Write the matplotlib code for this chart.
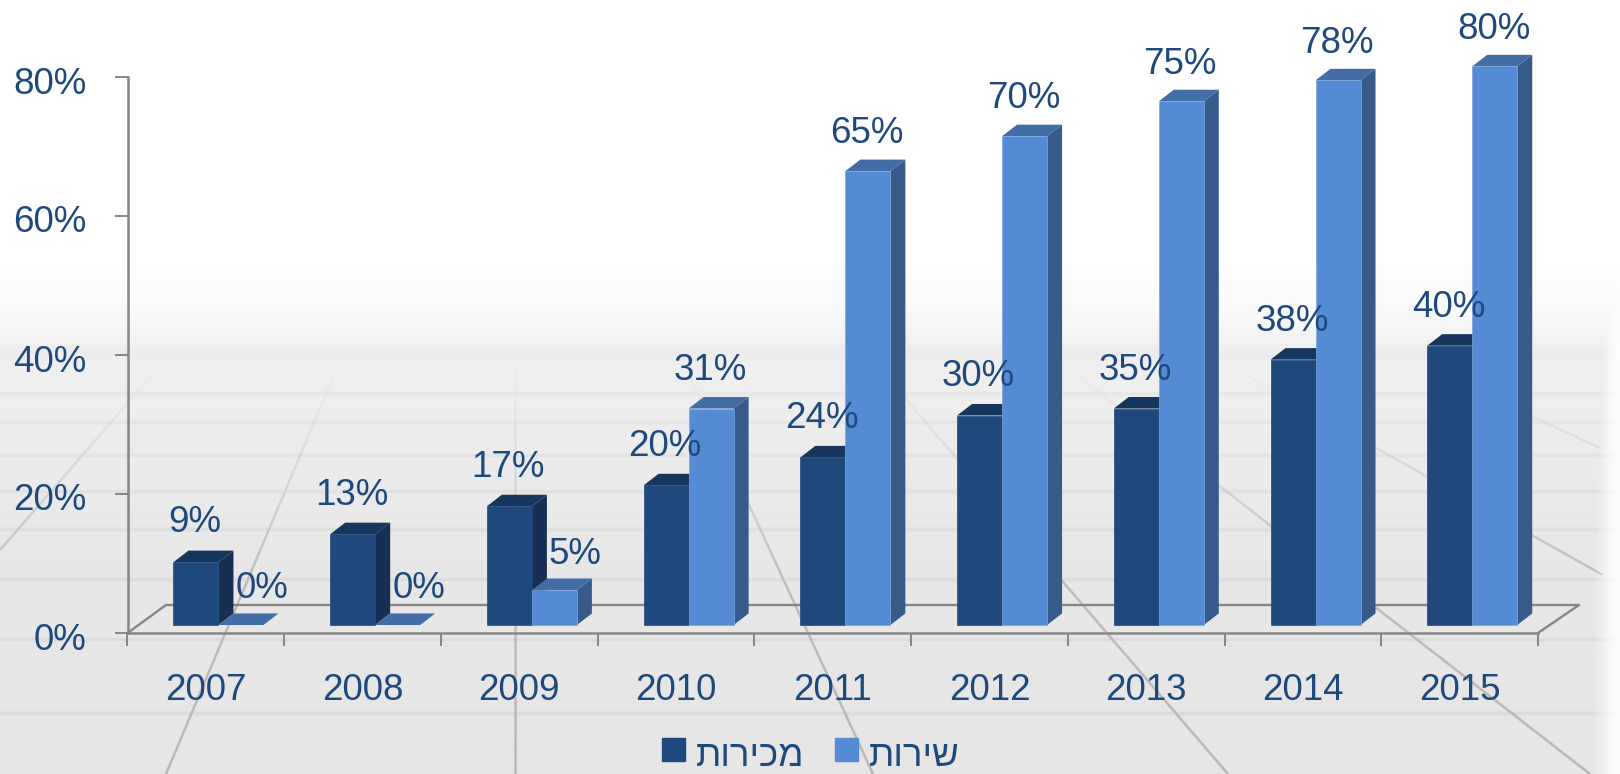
import numpy as np
import matplotlib
matplotlib.use("Agg")
import matplotlib.pyplot as plt
from matplotlib.collections import LineCollection
from matplotlib.patches import Patch
from matplotlib.transforms import Affine2D, ScaledTranslation

years = ["2007", "2008", "2009", "2010", "2011", "2012", "2013", "2014", "2015"]
sales = [9, 13, 17, 20, 24, 30, 31, 38, 40]  # bar heights; 2013 is drawn lower than its label
sales_labels = [9, 13, 17, 20, 24, 30, 35, 38, 40]
service = [0, 0, 5, 31, 65, 70, 75, 78, 80]
yticks = [0, 20, 40, 60, 80]
names = ["מכירות", "שירות"]

# background floor picture, in pixels
floor_rows = [393, 422, 455, 491, 529, 579, 639, 713]
floor_rays = [
    ((166, 359), (0, 550)),
    ((342, 356), (166, 774)),
    ((515, 355), (515, 774)),
    ((680, 355), (873, 774)),
    ((868, 355), (1228, 774)),
    ((1051, 355), (1590, 774)),
    ((1210, 355), (1603, 575)),
    ((1400, 355), (1600, 448)),
]

dark, dark_side, dark_top = "#1F497D", "#162F52", "#17365D"
light, light_side, light_top = "#558BD5", "#365B8A", "#426EA5"
text_col = "#1F497D"
axis_col = "#868686"

plt.rcParams["font.family"] = ["Liberation Sans", "DejaVu Sans"]
fs = 26.5

fig = plt.figure(figsize=(16.2, 7.74), dpi=100, facecolor="white")
W, H = 1620, 774

# background
bg = fig.add_axes([0, 0, 1, 1], zorder=0)
bg.axis("off")
yy, xx = np.mgrid[0:H, 0:W]
gray = np.full(H, 0.902)
gray -= 0.03 * np.exp(-((np.arange(H) - 352) / 7.0) ** 2)
for r in floor_rows:
    gray -= 0.05 * np.exp(-((np.arange(H) - r) / 2.0) ** 2)
bg.imshow(np.repeat(gray[:, None], 2, axis=1), cmap="gray", vmin=0, vmax=1,
          extent=(0, W, H, 0), aspect="auto", zorder=0)
for a, b in floor_rays:
    t = np.linspace(0, 1, 40)
    px = a[0] + (b[0] - a[0]) * t
    py = a[1] + (b[1] - a[1]) * t
    segs = [[(px[i], py[i]), (px[i + 1], py[i + 1])] for i in range(39)]
    strength = np.clip((py[:-1] - 350) / 230, 0.05, 1)
    colors = [(0.72, 0.72, 0.72, v) for v in strength]
    bg.add_collection(LineCollection(segs, colors=colors, linewidths=1.8, zorder=2))
fade = np.interp(yy, [0, 265, 310, 345, 360, 560, 774], [1, 1, 0.8, 0.45, 0.4, 0.08, 0])
fade = np.maximum(fade, np.interp(xx, [0, 1592, 1606, 1620], [0, 0, 0.6, 1]))
overlay = np.ones((H, W, 4))
overlay[..., 3] = fade
bg.imshow(overlay, extent=(0, W, H, 0), aspect="auto", zorder=3)
bg.set_xlim(0, W)
bg.set_ylim(H, 0)

# main chart
ax = fig.add_axes([127.5 / W, 1 - 633 / H, (1538 - 127.5) / W, (633 - 77) / H], zorder=1)
ax.patch.set_alpha(0)
ax.set_xlim(-0.5, 8.5)
ax.set_ylim(0, 80)

px_x = 9 / (1538 - 127.5)
px_y = 80 / (633 - 77)
w = 45 * px_x
dep_x, dep_y = 15 * px_x, 11.5 * px_y

# bars stand a little inside the floor
shift = ax.transData + ScaledTranslation(12.6 / 100, 8 / 100, fig.dpi_scale_trans)
bar_shift = Affine2D().scale(1, 1.0047) + shift
xs = np.arange(len(years))

# floor
ax.plot([-0.5, -0.5 + 38.5 * px_x, 8.5 + 41 * px_x, 8.5],
        [0, 28 * px_y, 28 * px_y, 0], color=axis_col, lw=1.7, clip_on=False, zorder=1)


def bar3d(x0, v, front, side, top, edge, z):
    ax.fill([x0 + w, x0 + w + dep_x, x0 + w + dep_x, x0 + w], [0, dep_y, v + dep_y, v],
            color=side, lw=0, transform=bar_shift, clip_on=False, zorder=z)
    ax.fill([x0, x0 + dep_x, x0 + w + dep_x, x0 + w], [v, v + dep_y, v + dep_y, v],
            color=top, lw=0, transform=bar_shift, clip_on=False, zorder=z)
    if v > 0:
        ax.bar(x0, v, width=w, align="edge", color=front, edgecolor=edge, linewidth=0.5,
               transform=bar_shift, clip_on=False, zorder=z + 0.1)


for x, s, l in zip(xs, sales, service):
    bar3d(x - w, s, dark, dark_side, dark_top, dark, 2 + x * 0.01)
    bar3d(x, l, light, light_side, light_top, "#7BA6E0", 3 + x * 0.01)

# data labels
for x, s, txt, l in zip(xs, sales, sales_labels, service):
    ax.annotate(f"{txt}%", xy=(x - w / 2, s), xycoords=shift, xytext=(-1 * 0.72, 39.5 * 0.72),
                textcoords="offset points", ha="center", va="center", fontsize=fs,
                color=text_col, annotation_clip=False, zorder=10)
    nudge, up = (21, 36) if l <= 5 else (-1, 39.5)
    ax.annotate(f"{l}%", xy=(x + w / 2, l), xycoords=shift, xytext=(nudge * 0.72, up * 0.72),
                textcoords="offset points", ha="center", va="center", fontsize=fs,
                color=text_col, annotation_clip=False, zorder=10)

# axes
for sp in ["top", "right"]:
    ax.spines[sp].set_visible(False)
for sp in ["left", "bottom"]:
    ax.spines[sp].set_color(axis_col)
    ax.spines[sp].set_linewidth(1.8)
ax.set_yticks(yticks)
ax.set_yticklabels([f"{t}%" for t in yticks], fontsize=fs, color=text_col)
ax.tick_params(axis="y", length=9.4, width=1.4, color=axis_col, pad=20)
drop = ScaledTranslation(0, -3 / 100, fig.dpi_scale_trans)
for t in ax.get_yticklabels():
    t.set_transform(t.get_transform() + drop)
ax.set_xticks(np.arange(-0.5, 9, 1))
ax.set_xticklabels([])
ax.tick_params(axis="x", which="major", length=9, width=1.4, color=axis_col)
ax.set_xticks(xs, minor=True)
ax.set_xticklabels(years, minor=True, fontsize=fs, color=text_col)
ax.tick_params(axis="x", which="minor", length=0, pad=29)

# legend, matplotlib has no bidi so the hebrew goes in visual order
handles = [Patch(color=dark), Patch(color=light)]
leg = fig.legend(handles, [n[::-1] for n in names], ncol=2, frameon=False, fontsize=fs,
                 loc="center", bbox_to_anchor=(811 / W, 1 - 753 / H),
                 handlelength=0.62, handleheight=0.62, handletextpad=0.3, columnspacing=0.85,
                 borderpad=0, labelcolor=text_col)
for t in leg.get_texts():
    t.set_y(-4)

fig.savefig("out.png", dpi=100)
